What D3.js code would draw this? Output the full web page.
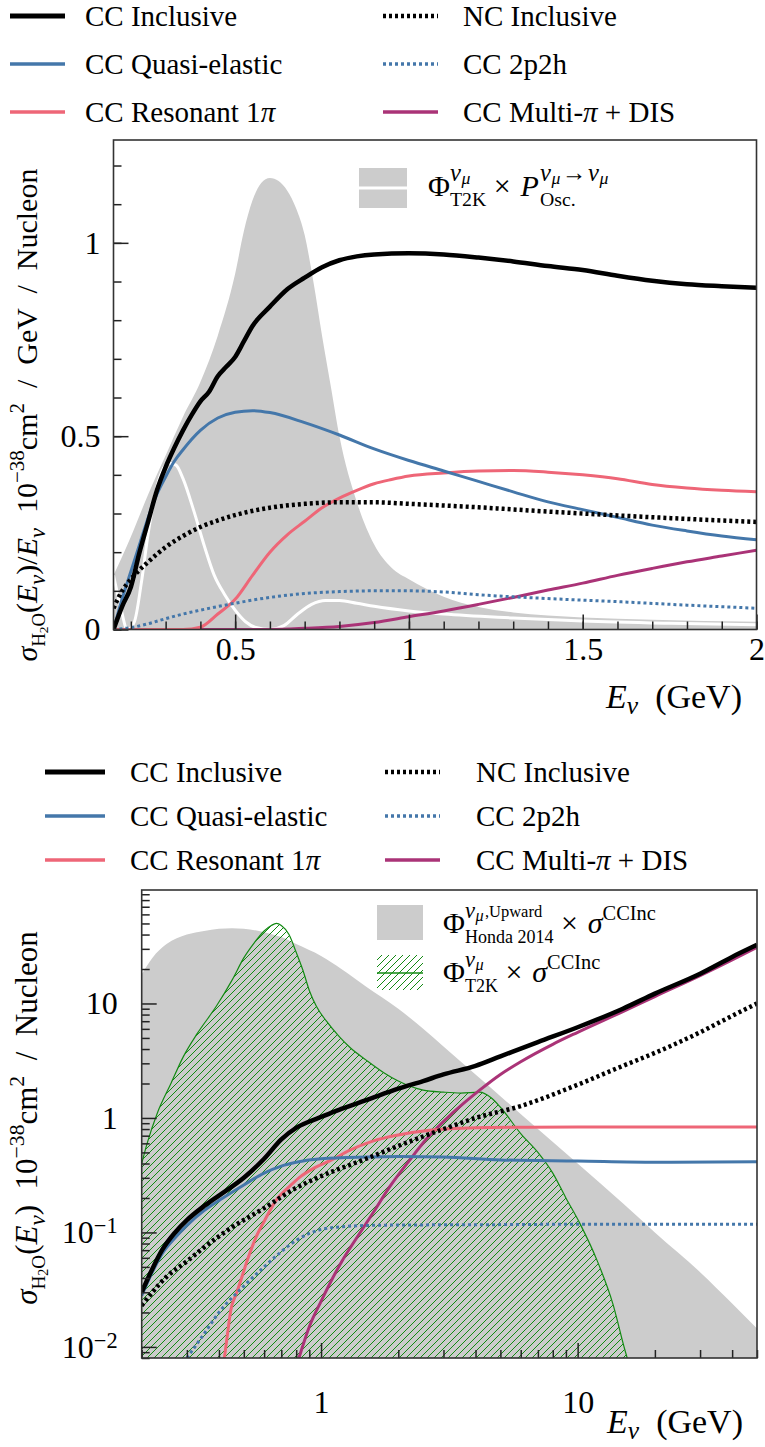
<!DOCTYPE html>
<html>
<head>
<meta charset="utf-8">
<script src="https://cdn.jsdelivr.net/npm/d3@7"></script>
<style>
body { margin: 0; background: #fff; }
svg { display: block; }
text { font-family: 'Liberation Serif', 'Times New Roman', 'DejaVu Serif', serif; fill: #000; white-space: pre; }
</style>
</head>
<body>
<svg id="chart" width="765" height="1447"></svg>
<script>
// ---- top panel data: sigma/E (1e-38 cm2 / GeV / nucleon) vs E (GeV)
const topFlux = [[0.15,0.14],[0.2,0.24],[0.25,0.35],[0.3,0.45],[0.35,0.55],[0.4,0.64],[0.45,0.76],[0.5,0.92],[0.525,1.03],[0.55,1.11],[0.575,1.155],[0.6,1.168],[0.625,1.16],[0.65,1.135],[0.675,1.09],[0.7,1.02],[0.725,0.9],[0.75,0.76],[0.775,0.63],[0.8,0.5],[0.85,0.33],[0.9,0.22],[0.95,0.16],[1.0,0.13],[1.1,0.085],[1.2,0.058],[1.3,0.044],[1.4,0.036],[1.5,0.031],[1.7,0.025],[2.0,0.02]]
const topOscFlux = [[0.15,0.14],[0.17,0.06],[0.19,0.0],[0.21,0.02],[0.23,0.12],[0.25,0.25],[0.27,0.35],[0.29,0.41],[0.31,0.43],[0.33,0.425],[0.35,0.39],[0.38,0.31],[0.41,0.22],[0.44,0.14],[0.47,0.09],[0.5,0.05],[0.53,0.02],[0.56,0.005],[0.6,0.0],[0.64,0.01],[0.68,0.04],[0.72,0.065],[0.76,0.075],[0.8,0.075],[0.85,0.068],[0.9,0.06],[1.0,0.048],[1.1,0.04],[1.3,0.03],[1.5,0.022],[1.75,0.016],[2.0,0.012]]
const topCCInc = [[0.15,0],[0.175,0.06],[0.2,0.11],[0.225,0.2],[0.25,0.28],[0.275,0.36],[0.3,0.42],[0.325,0.47],[0.35,0.515],[0.375,0.555],[0.4,0.59],[0.425,0.615],[0.45,0.655],[0.475,0.68],[0.5,0.705],[0.525,0.745],[0.55,0.785],[0.6,0.835],[0.65,0.88],[0.7,0.91],[0.75,0.937],[0.8,0.955],[0.85,0.965],[0.9,0.97],[1.0,0.973],[1.1,0.97],[1.2,0.962],[1.3,0.952],[1.4,0.94],[1.5,0.93],[1.6,0.915],[1.7,0.902],[1.8,0.893],[1.9,0.888],[2.0,0.884]]
const topNCInc = [[0.15,0.055],[0.175,0.1],[0.2,0.13],[0.25,0.175],[0.3,0.213],[0.35,0.242],[0.4,0.265],[0.45,0.282],[0.5,0.296],[0.6,0.315],[0.7,0.325],[0.8,0.329],[0.9,0.329],[1.0,0.325],[1.2,0.316],[1.4,0.305],[1.6,0.295],[1.8,0.286],[2.0,0.278]]
const topQE = [[0.15,0],[0.175,0.08],[0.2,0.15],[0.225,0.22],[0.25,0.29],[0.275,0.35],[0.3,0.395],[0.325,0.435],[0.35,0.465],[0.4,0.515],[0.45,0.547],[0.5,0.562],[0.55,0.566],[0.6,0.561],[0.7,0.535],[0.8,0.503],[0.9,0.467],[1.0,0.437],[1.1,0.41],[1.2,0.383],[1.3,0.356],[1.4,0.33],[1.5,0.31],[1.6,0.29],[1.7,0.27],[1.8,0.255],[1.9,0.242],[2.0,0.232]]
const top2p2h = [[0.15,0],[0.2,0.005],[0.25,0.015],[0.3,0.028],[0.35,0.04],[0.4,0.05],[0.5,0.068],[0.6,0.083],[0.7,0.093],[0.8,0.098],[0.9,0.1],[1.0,0.1],[1.1,0.097],[1.2,0.09],[1.4,0.08],[1.6,0.072],[1.8,0.063],[2.0,0.055]]
const topRes = [[0.15,0],[0.3,0],[0.35,0],[0.4,0.006],[0.45,0.04],[0.5,0.078],[0.55,0.14],[0.6,0.2],[0.65,0.245],[0.7,0.28],[0.75,0.315],[0.8,0.34],[0.85,0.36],[0.9,0.377],[0.95,0.388],[1.0,0.397],[1.1,0.405],[1.2,0.41],[1.3,0.411],[1.4,0.407],[1.5,0.4],[1.6,0.39],[1.7,0.375],[1.8,0.366],[1.9,0.36],[2.0,0.356]]
const topDIS = [[0.15,0],[0.6,0],[0.7,0.003],[0.8,0.008],[0.9,0.018],[1.0,0.033],[1.1,0.048],[1.2,0.065],[1.3,0.083],[1.4,0.102],[1.5,0.12],[1.6,0.14],[1.7,0.158],[1.8,0.175],[1.9,0.19],[2.0,0.205]]

// ---- bottom panel data: sigma (1e-38 cm2 / nucleon) vs E (GeV), log-log
const botHonda = [[0.2,18],[0.22,25],[0.25,33],[0.3,40],[0.35,43],[0.4,45],[0.45,45.5],[0.5,45],[0.6,42],[0.7,38],[0.8,33],[1.0,26],[1.2,20],[1.5,14],[2.0,9],[2.5,6],[3.0,4.2],[4.0,2.4],[5.0,1.55],[7.0,0.8],[10,0.4],[15,0.18],[20,0.1],[30,0.045],[40,0.024],[50,0.0145]]
const botT2K = [[0.2,0.4],[0.21,0.6],[0.23,1.1],[0.26,2.0],[0.29,3.4],[0.33,5.5],[0.39,9.4],[0.45,16],[0.5,25],[0.55,34],[0.6,43],[0.64,48],[0.67,50],[0.7,48],[0.75,40],[0.8,28],[0.85,19.5],[0.9,13],[0.96,9.4],[1.05,7],[1.18,5.1],[1.3,4.1],[1.5,3.2],[1.75,2.5],[2.0,2.1],[2.5,1.75],[3.0,1.68],[3.5,1.65],[4.15,1.68],[4.6,1.5],[5.0,1.24],[6.0,0.73],[7.0,0.5],[8.0,0.33],[9.0,0.2],[10.2,0.12],[11.9,0.057],[13.7,0.024],[15.3,0.0093],[15.6,0.008]]
const botCCInc = [[0.2,0.03],[0.22,0.048],[0.24,0.07],[0.27,0.1],[0.3,0.128],[0.35,0.17],[0.4,0.21],[0.5,0.3],[0.6,0.44],[0.7,0.65],[0.8,0.82],[0.9,0.93],[1.0,1.02],[1.2,1.2],[1.5,1.43],[2.0,1.8],[2.5,2.1],[3.0,2.4],[4.0,2.85],[5.0,3.45],[7.0,4.6],[10,6.2],[15,9],[20,12.2],[30,18.2],[40,25.5],[50,32.5]]
const botNCInc = [[0.2,0.023],[0.25,0.041],[0.3,0.056],[0.35,0.074],[0.45,0.111],[0.6,0.163],[0.8,0.245],[1.0,0.31],[1.5,0.44],[2.0,0.57],[3.0,0.8],[4.0,1.0],[6.0,1.27],[10,1.95],[15,2.85],[20,3.7],[30,5.6],[40,7.8],[50,10]]
const botQE = [[0.2,0.028],[0.22,0.045],[0.24,0.065],[0.27,0.09],[0.3,0.115],[0.35,0.155],[0.4,0.19],[0.5,0.26],[0.6,0.33],[0.7,0.38],[0.8,0.41],[1.0,0.44],[1.5,0.455],[2.0,0.46],[3.0,0.455],[5.0,0.43],[10,0.42],[20,0.41],[50,0.415]]
const bot2p2h = [[0.3,0.008],[0.35,0.013],[0.4,0.02],[0.5,0.034],[0.6,0.05],[0.7,0.068],[0.8,0.085],[0.9,0.098],[1.0,0.106],[1.2,0.112],[1.5,0.115],[2.0,0.116],[5.0,0.117],[10,0.118],[20,0.118],[50,0.118]]
const botRes = [[0.42,0.008],[0.43,0.012],[0.445,0.021],[0.47,0.03],[0.49,0.04],[0.52,0.06],[0.557,0.09],[0.6,0.125],[0.667,0.19],[0.75,0.25],[0.82,0.3],[0.95,0.37],[1.1,0.43],[1.29,0.52],[1.6,0.63],[2.0,0.71],[2.65,0.78],[4,0.82],[6,0.83],[10,0.835],[20,0.835],[50,0.835]]
const botDIS = [[0.82,0.008],[0.9,0.015],[1.0,0.025],[1.2,0.055],[1.4,0.095],[1.6,0.15],[1.85,0.25],[2.2,0.42],[2.6,0.67],[3.25,1.1],[4.15,1.75],[5,2.4],[6,3.1],[8,4.4],[10,5.6],[15,8.5],[20,11.5],[30,17.5],[40,24],[50,31]]

// ---- ticks
const topXTicks = [0.5, 1, 1.5, 2]
const topYTicks = [0, 0.5, 1]
const botXTicks = [1, 10]
const botYTicks = [0.01, 0.1, 1, 10]

const BLACK = '#000000', BLUE = '#4477AA', PINK = '#EE6677', PURPLE = '#AA3377', GREY = '#cccccc', GREEN = '#138a13'

const svg = d3.select('#chart')
const defs = svg.append('defs')

// draws a small formula made of pieces; returns its width
function mathText(g, x, y, items, fs) {
    let cx = x
    for (const it of items) {
        if (it.stack) {
            let w = 0
            for (const s of it.stack) w = Math.max(w, mathText(g, cx, y, s, fs))
            cx += w
        } else {
            const t = g.append('text')
                .attr('x', cx)
                .attr('y', y + (it.dy || 0) * fs)
                .attr('font-size', fs * (it.s || 1))
                .attr('font-style', it.it ? 'italic' : 'normal')
                .text(it.t)
            cx += t.node().getComputedTextLength() + (it.gap || 0) * fs
        }
    }
    return cx - x
}

const sub = (t, s, it, dy) => ({ t: t, s: s || 0.7, dy: dy || 0.25, it: it })
const sup = (t, s, it) => ({ t: t, s: s || 0.7, dy: -0.42, it: it })
const numu = (s) => [{ t: 'ν', it: true, s: s, dy: -0.5, gap: 0.02 }, { t: 'μ', it: true, s: s * 0.72, dy: -0.4, gap: 0.04 }]

// legend entries shared by both panels
const legendSeries = [
    { label: [{ t: 'CC Inclusive' }], color: BLACK, w: 5, dash: null },
    { label: [{ t: 'NC Inclusive' }], color: BLACK, w: 4.5, dash: '3,3' },
    { label: [{ t: 'CC Quasi-elastic' }], color: BLUE, w: 3.5, dash: null },
    { label: [{ t: 'CC 2p2h' }], color: BLUE, w: 3.5, dash: '3,3' },
    { label: [{ t: 'CC Resonant 1' }, { t: 'π', it: true }], color: PINK, w: 3.5, dash: null },
    { label: [{ t: 'CC Multi-' }, { t: 'π', it: true }, { t: ' + DIS' }], color: PURPLE, w: 3.5, dash: null }
]

function drawLegend(y0, rowGap, col1, col2, fs) {
    const g = svg.append('g')
    legendSeries.forEach((s, i) => {
        const col = i % 2 === 0 ? col1 : col2
        const y = y0 + Math.floor(i / 2) * rowGap
        g.append('line')
            .attr('x1', col.line[0]).attr('x2', col.line[1])
            .attr('y1', y).attr('y2', y)
            .attr('stroke', s.color)
            .attr('stroke-width', s.w)
            .attr('stroke-dasharray', s.dash)
        mathText(g, col.text, y + fs * 0.33, s.label, fs)
    })
}

function drawFrame(g, x, y) {
    g.append('rect')
        .attr('x', x.range()[0]).attr('y', y.range()[1])
        .attr('width', x.range()[1] - x.range()[0])
        .attr('height', y.range()[0] - y.range()[1])
        .attr('fill', 'none').attr('stroke', '#333').attr('stroke-width', 1.6)
}

function styleAxis(g, fs) {
    g.select('.domain').remove()
    g.selectAll('.tick line').attr('stroke', '#222').attr('stroke-width', 1.5)
    g.selectAll('text').attr('font-size', fs).attr('fill', '#000')
}

function drawLines(g, line, series) {
    series.forEach(s => {
        g.append('path').datum(s.data)
            .attr('d', line)
            .attr('fill', 'none')
            .attr('stroke', s.color)
            .attr('stroke-width', s.w)
            .attr('stroke-dasharray', s.dash)
    })
}

// rotated y label centred at (x, cy)
function yLabel(x, cy, items, fs) {
    const outer = svg.append('g')
    const inner = outer.append('g')
    const w = mathText(inner, 0, 0, items, fs)
    outer.attr('transform', `translate(${x},${cy + w / 2}) rotate(-90)`)
}

// right-aligned x label
function xLabel(xr, y, items, fs) {
    const g = svg.append('g')
    const w = mathText(g, 0, y, items, fs)
    g.attr('transform', `translate(${xr - w},0)`)
}

const sigmaH2O = [
    { t: 'σ', it: true }, sub('H', 0.62), { t: '2', s: 0.45, dy: 0.36 }, sub('O', 0.62),
    { t: '(' }, { t: 'E', it: true }, sub('ν', 0.75, true), { t: ')' }
]
const EnuGeV = [{ t: 'E', it: true }, sub('ν', 0.75, true, 0.18), { t: '  (GeV)' }]

// ================= TOP PANEL =================
drawLegend(16, 48, { line: [10, 65], text: 85 }, { line: [383, 438], text: 463 }, 29)

const xTop = d3.scaleLinear().domain([0.15, 2]).range([113.5, 756.5])
const yTop = d3.scaleLinear().domain([0, 1.266]).range([629.5, 140])

defs.append('clipPath').attr('id', 'clipTop').append('rect')
    .attr('x', xTop.range()[0]).attr('y', yTop.range()[1])
    .attr('width', xTop.range()[1] - xTop.range()[0])
    .attr('height', yTop.range()[0] - yTop.range()[1])

const gTop = svg.append('g')
const plotTop = gTop.append('g').attr('clip-path', 'url(#clipTop)')

const areaTop = d3.area().x(d => xTop(d[0])).y0(yTop(0)).y1(d => yTop(d[1])).curve(d3.curveMonotoneX)
const lineTop = d3.line().x(d => xTop(d[0])).y(d => yTop(d[1])).curve(d3.curveMonotoneX)

plotTop.append('path').datum(topFlux).attr('d', areaTop).attr('fill', GREY)
plotTop.append('path').datum(topOscFlux).attr('d', lineTop)
    .attr('fill', 'none').attr('stroke', '#fff').attr('stroke-width', 3)

drawLines(plotTop, lineTop, [
    { data: topDIS, color: PURPLE, w: 3 },
    { data: topRes, color: PINK, w: 3 },
    { data: top2p2h, color: BLUE, w: 3, dash: '3,3' },
    { data: topQE, color: BLUE, w: 3 },
    { data: topNCInc, color: BLACK, w: 4.5, dash: '3,3' },
    { data: topCCInc, color: BLACK, w: 4.5 }
])

gTop.append('g').attr('transform', `translate(${xTop.range()[0]},0)`)
    .call(d3.axisLeft(yTop).tickValues(d3.range(0, 1.25, 0.1)).tickSize(-8).tickFormat(''))
    .call(g => styleAxis(g, 32))
gTop.append('g').attr('transform', `translate(${xTop.range()[0]},0)`)
    .call(d3.axisLeft(yTop).tickValues(topYTicks).tickSize(-15).tickPadding(13).tickFormat(d => String(d)))
    .call(g => styleAxis(g, 32))
gTop.append('g').attr('transform', `translate(0,${yTop.range()[0]})`)
    .call(d3.axisBottom(xTop).tickValues(d3.range(0.2, 2.01, 0.1)).tickSize(-8).tickFormat(''))
    .call(g => styleAxis(g, 32))
gTop.append('g').attr('transform', `translate(0,${yTop.range()[0]})`)
    .call(d3.axisBottom(xTop).tickValues(topXTicks).tickSize(-15).tickPadding(8).tickFormat(d => String(d)))
    .call(g => styleAxis(g, 32))
drawFrame(gTop, xTop, yTop)

// in-plot legend (top)
const legTop = gTop.append('g')
legTop.append('rect').attr('x', 359).attr('y', 168).attr('width', 48).attr('height', 40).attr('fill', GREY)
legTop.append('line').attr('x1', 359).attr('x2', 407).attr('y1', 188).attr('y2', 188).attr('stroke', '#fff').attr('stroke-width', 3)
mathText(legTop, 428, 196, [
    { t: 'Φ' },
    { stack: [numu(0.82), [sub('T2K', 0.66, false, 0.32)]] },
    { t: ' × ', gap: 0.08 }, { t: 'P', it: true, gap: 0.04 },
    { stack: [numu(0.82).concat([{ t: '→', s: 0.82, dy: -0.5, gap: 0.06 }]).concat(numu(0.82)), [sub('Osc.', 0.66, false, 0.32)]] }
], 30)

yLabel(37, 415, sigmaH2O.concat([
    { t: '/' }, { t: 'E', it: true }, sub('ν', 0.75, true), { t: '  10' }, sup('−38'), { t: 'cm' }, sup('2'), { t: '  /  GeV  /  Nucleon' }
]), 30)
xLabel(742, 708, EnuGeV, 34)

// ================= BOTTOM PANEL =================
drawLegend(772, 44, { line: [45, 105], text: 130 }, { line: [385, 440], text: 476 }, 29)

const xBot = d3.scaleLog().domain([0.2, 50]).range([141.7, 757])
const yBot = d3.scaleLog().domain([0.008, 98]).range([1358, 890])

defs.append('clipPath').attr('id', 'clipBot').append('rect')
    .attr('x', xBot.range()[0]).attr('y', yBot.range()[1])
    .attr('width', xBot.range()[1] - xBot.range()[0])
    .attr('height', yBot.range()[0] - yBot.range()[1])

const hs = 7
defs.append('pattern').attr('id', 'hatch').attr('patternUnits', 'userSpaceOnUse')
    .attr('width', hs).attr('height', hs)
    .append('path')
    .attr('d', `M0,${hs} L${hs},0 M${-hs / 2},${hs / 2} L${hs / 2},${-hs / 2} M${hs / 2},${hs * 1.5} L${hs * 1.5},${hs / 2}`)
    .attr('stroke', GREEN).attr('stroke-width', 1)

const gBot = svg.append('g')
const plotBot = gBot.append('g').attr('clip-path', 'url(#clipBot)')

const areaBot = d3.area().x(d => xBot(d[0])).y0(yBot(yBot.domain()[0])).y1(d => yBot(d[1])).curve(d3.curveMonotoneX)
const lineBot = d3.line().x(d => xBot(d[0])).y(d => yBot(d[1])).curve(d3.curveMonotoneX)

plotBot.append('path').datum(botHonda).attr('d', areaBot).attr('fill', GREY)
plotBot.append('path').datum(botT2K).attr('d', areaBot).attr('fill', 'url(#hatch)')
plotBot.append('path').datum(botT2K).attr('d', lineBot).attr('fill', 'none').attr('stroke', GREEN).attr('stroke-width', 1.2)

drawLines(plotBot, lineBot, [
    { data: botDIS, color: PURPLE, w: 3 },
    { data: botRes, color: PINK, w: 3 },
    { data: bot2p2h, color: BLUE, w: 3, dash: '3,3' },
    { data: botQE, color: BLUE, w: 3 },
    { data: botNCInc, color: BLACK, w: 4.5, dash: '3,3' },
    { data: botCCInc, color: BLACK, w: 4.5 }
])

gBot.append('g').attr('transform', `translate(${xBot.range()[0]},0)`)
    .call(d3.axisLeft(yBot).tickValues(yBot.ticks().filter(v => !botYTicks.includes(v))).tickSize(-8).tickFormat(''))
    .call(g => styleAxis(g, 32))
gBot.append('g').attr('transform', `translate(${xBot.range()[0]},0)`)
    .call(d3.axisLeft(yBot).tickValues(botYTicks).tickSize(-15).tickPadding(24).tickFormat(d => String(d)))
    .call(g => styleAxis(g, 32))
    .call(g => g.selectAll('.tick text').each(function (d) {
        if (d >= 1) return
        const t = d3.select(this).text(null)
        t.append('tspan').text('10')
        t.append('tspan').attr('dy', '-0.45em').attr('font-size', '0.7em').text('−' + Math.round(-Math.log10(d)))
    }))
gBot.append('g').attr('transform', `translate(0,${yBot.range()[0]})`)
    .call(d3.axisBottom(xBot).tickValues(xBot.ticks().filter(v => !botXTicks.includes(v))).tickSize(-8).tickFormat(''))
    .call(g => styleAxis(g, 32))
gBot.append('g').attr('transform', `translate(0,${yBot.range()[0]})`)
    .call(d3.axisBottom(xBot).tickValues(botXTicks).tickSize(-15).tickPadding(32).tickFormat(d => String(d)))
    .call(g => styleAxis(g, 32))
drawFrame(gBot, xBot, yBot)

// in-plot legend (bottom)
const legBot = gBot.append('g')
legBot.append('rect').attr('x', 377).attr('y', 905).attr('width', 46).attr('height', 35).attr('fill', GREY)
legBot.append('rect').attr('x', 377).attr('y', 955).attr('width', 46).attr('height', 35).attr('fill', 'url(#hatch)')
legBot.append('line').attr('x1', 377).attr('x2', 423).attr('y1', 973).attr('y2', 973).attr('stroke', GREEN).attr('stroke-width', 1.5)
mathText(legBot, 443, 933, [
    { t: 'Φ' },
    { stack: [numu(0.75).concat([{ t: ',Upward', s: 0.55, dy: -0.55 }]), [sub('Honda 2014', 0.6, false, 0.32)]] },
    { t: ' × ', gap: 0.08 }, { t: 'σ', it: true }, sup('CCInc', 0.68)
], 30)
mathText(legBot, 443, 982, [
    { t: 'Φ' },
    { stack: [numu(0.75), [sub('T2K', 0.6, false, 0.32)]] },
    { t: ' × ', gap: 0.08 }, { t: 'σ', it: true }, sup('CCInc', 0.68)
], 30)

yLabel(37, 1118, sigmaH2O.concat([
    { t: '  10' }, sup('−38'), { t: 'cm' }, sup('2'), { t: '  /  Nucleon' }
]), 31)
xLabel(743, 1433, EnuGeV, 34)
</script>
</body>
</html>
